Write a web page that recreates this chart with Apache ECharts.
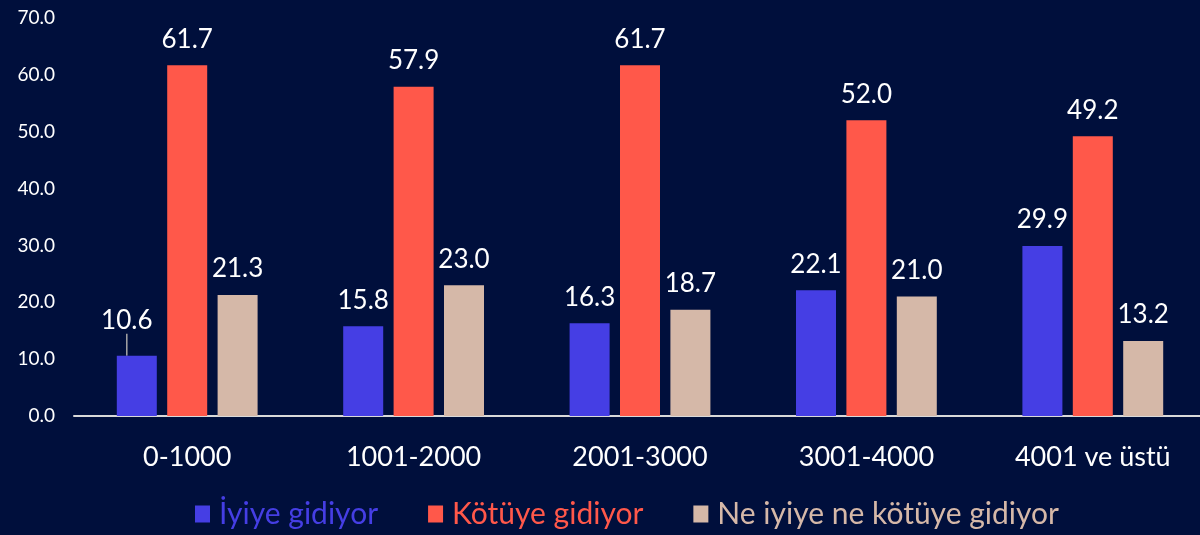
<!DOCTYPE html>
<html>
<head>
<meta charset="utf-8">
<script src="https://cdn.jsdelivr.net/npm/echarts@6/dist/echarts.min.js"></script>
<style>
  html, body { margin: 0; padding: 0; background: #000f3c; }
  #main { width: 1200px; height: 535px; }
</style>
</head>
<body>
<div id="main"></div>
<script>
// kategoriler ve seriler
var categories = ['0-1000', '1001-2000', '2001-3000', '3001-4000', '4001 ve üstü'];
var seriesNames = ['İyiye gidiyor', 'Kötüye gidiyor', 'Ne iyiye ne kötüye gidiyor'];
var iyiye = [10.6, 15.8, 16.3, 22.1, 29.9];
var kotuye = [61.7, 57.9, 61.7, 52.0, 49.2];
var neIyiye = [21.3, 23.0, 18.7, 21.0, 13.2];
var yTicks = [0, 10, 20, 30, 40, 50, 60, 70];

var colors = ['#453ee4', '#ff584a', '#d5b8a8'];
var font = 'Lato, "Open Sans", sans-serif';

var myChart = echarts.init(document.getElementById('main'));

function makeSeries(name, data, color, extra) {
    var s = {
        name: name,
        type: 'bar',
        data: data,
        barWidth: 40,
        barGap: '26%',
        itemStyle: { color: color },
        label: {
            show: true,
            position: 'top',
            distance: 13,
            color: '#ffffff',
            fontSize: 26,
            fontFamily: font,
            formatter: function (p) { return p.value.toFixed(1); }
        }
    };
    return Object.assign(s, extra || {});
}

// ilk mavi çubuğun etiketi biraz kaydırılmış, çizgiyle bağlı
var iyiyeData = iyiye.map(function (v, i) {
    if (i === 0) {
        return { value: v, labelLine: { show: true, lineStyle: { color: '#a6a6a6', width: 1.5 } } };
    }
    return v;
});

var option = {
    backgroundColor: '#000f3c',
    animation: false,
    color: colors,
    legend: {
        left: 190,
        bottom: 1,
        itemWidth: 15,
        itemHeight: 17,
        itemGap: 50,
        icon: 'rect',
        textStyle: { fontSize: 30, fontFamily: font, padding: [0, 0, 0, 4] },
        data: seriesNames.map(function (n, i) {
            return { name: n, textStyle: { color: colors[i] } };
        })
    },
    grid: { left: 74, width: 1132, top: 18, bottom: 119, outerBoundsMode: 'none', containLabel: false },
    xAxis: {
        type: 'category',
        data: categories,
        axisTick: { show: false },
        axisLine: { lineStyle: { color: '#d9d9d9', width: 2 } },
        axisLabel: { color: '#ffffff', fontSize: 27, fontFamily: font, margin: 28 }
    },
    yAxis: {
        type: 'value',
        min: yTicks[0],
        max: yTicks[yTicks.length - 1],
        interval: 10,
        splitLine: { show: false },
        axisLine: { show: false },
        axisTick: { show: false },
        axisLabel: {
            color: '#ffffff', fontSize: 19, fontFamily: font, margin: 19,
            formatter: function (v) { return v.toFixed(1); }
        }
    },
    series: [
        makeSeries(seriesNames[0], iyiyeData, colors[0], {
            labelLayout: function (p) {
                if (p.dataIndex === 0) return { dx: -10, dy: -9 };
                return {};
            }
        }),
        makeSeries(seriesNames[1], kotuye, colors[1]),
        makeSeries(seriesNames[2], neIyiye, colors[2])
    ]
};
myChart.setOption(option);
window.onresize = myChart.resize;
</script>
</body>
</html>
